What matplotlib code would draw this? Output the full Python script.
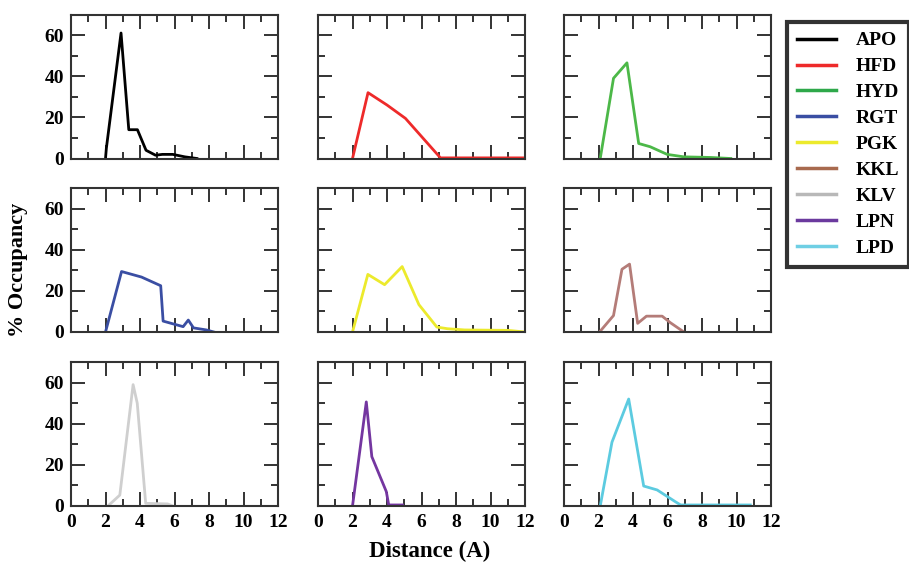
import matplotlib.pyplot as plt

# occupancy vs distance for each system
names = ["APO", "HFD", "HYD", "RGT", "PGK", "KKL", "KLV", "LPN", "LPD"]
colors = ["#000000", "#ee2a2a", "#4cb848", "#3a4ea3", "#ecea2c",
          "#b47c78", "#cfcfcf", "#7436a0", "#5ccbe0"]
legend_colors = ["#000000", "#ee2a2a", "#2ea84a", "#3a4ea3", "#ecea2c",
                 "#a86a4e", "#b8b8b8", "#6b3a9e", "#6fcfe4"]

apo_x = [2.0, 2.05, 2.9, 3.35, 3.85, 4.35, 4.9, 5.3, 5.9, 6.6, 7.3]
apo_y = [0, 5, 61, 14, 14, 4, 1.6, 2, 2, 0.8, 0]
hfd_x = [2.0, 2.9, 4.0, 5.07, 7.1, 12.0]
hfd_y = [0, 32, 26, 19.5, 0.3, 0.3]
hyd_x = [2.1, 2.87, 3.65, 4.33, 5.0, 5.98, 6.95, 8.5, 9.67]
hyd_y = [0, 39, 46.5, 7.3, 5.7, 2, 0.8, 0.5, 0]
rgt_x = [2.0, 2.93, 4.09, 5.2, 5.34, 6.5, 6.8, 7.1, 7.85, 8.28]
rgt_y = [0, 29.4, 26.7, 22.5, 5.3, 2.6, 5.8, 2, 1, 0]
pgk_x = [2.0, 2.89, 3.86, 4.88, 5.85, 6.89, 7.5, 8.5, 11.0, 12.0]
pgk_y = [0, 28, 23, 31.8, 13.3, 2.4, 1.6, 1, 0.8, 0]
kkl_x = [2.06, 2.87, 3.36, 3.8, 4.27, 4.78, 5.69, 6.17, 6.95]
kkl_y = [0, 8, 30.5, 33, 4.2, 7.7, 7.7, 4.5, 0]
klv_x = [2.14, 2.83, 3.6, 3.84, 4.33, 5.6, 5.9]
klv_y = [0, 5.3, 59, 50, 1.3, 1, 0]
lpn_x = [2.0, 2.8, 3.12, 3.96, 4.1, 4.9]
lpn_y = [0, 50.6, 24, 7, 0.5, 0.5]
lpd_x = [2.1, 2.78, 3.75, 4.62, 5.4, 6.47, 6.76, 10.8]
lpd_y = [0, 31, 52, 9.7, 7.8, 2, 0.5, 0.5]

xs = [apo_x, hfd_x, hyd_x, rgt_x, pgk_x, kkl_x, klv_x, lpn_x, lpd_x]
ys = [apo_y, hfd_y, hyd_y, rgt_y, pgk_y, kkl_y, klv_y, lpn_y, lpd_y]

plt.rcParams['font.family'] = ['Liberation Serif', 'DejaVu Serif']
plt.rcParams['font.weight'] = 'bold'

W, H = 909, 564
fig = plt.figure(figsize=(W / 100, H / 100), dpi=100)

lefts = [71, 318, 564]
tops = [14.5, 188, 362]
pw, ph = 207, 144

for i in range(9):
    row, col = divmod(i, 3)
    ax = fig.add_axes([lefts[col] / W, 1 - (tops[row] + ph) / H, pw / W, ph / H])
    ax.plot(xs[i], ys[i], color=colors[i], lw=2)
    ax.set_xlim(0, 12)
    ax.set_ylim(0, 70)
    ax.set_xticks(range(0, 13, 2))
    ax.set_xticks(range(0, 13), minor=True)
    ax.set_yticks([0, 20, 40, 60])
    ax.set_yticks([10, 30, 50], minor=True)
    ax.tick_params(which='both', direction='in', top=True, right=True,
                   color='#333333', width=1.4, labelsize=14)
    ax.tick_params(which='major', length=10)
    ax.tick_params(which='minor', length=5)
    ax.tick_params(axis='x', which='major', pad=6)
    ax.tick_params(axis='y', which='major', pad=5)
    for s in ax.spines.values():
        s.set_linewidth(1.5)
        s.set_color('#333333')
    if col != 0:
        ax.set_yticklabels([])
    if row != 2:
        ax.set_xticklabels([])

fig.text(18 / W, 1 - 270 / H, "% Occupancy", rotation=90, ha='center', va='center',
         fontsize=16, fontweight='bold')
fig.text(430 / W, 1 - 551 / H, "Distance (A)", ha='center', va='center',
         fontsize=16.5, fontweight='bold')

handles = [plt.Line2D([], [], color=c, lw=2.5) for c in legend_colors]
leg = fig.legend(handles, names, loc='upper left',
                 bbox_to_anchor=(787 / W, 1 - 22 / H), fancybox=False,
                 frameon=True, fontsize=14, handlelength=2.0, handletextpad=1.05,
                 labelspacing=0.43, borderpad=0.5, borderaxespad=0)
leg.get_frame().set_edgecolor('black')
leg.get_frame().set_linewidth(3)

fig.savefig("out.png", dpi=100)
